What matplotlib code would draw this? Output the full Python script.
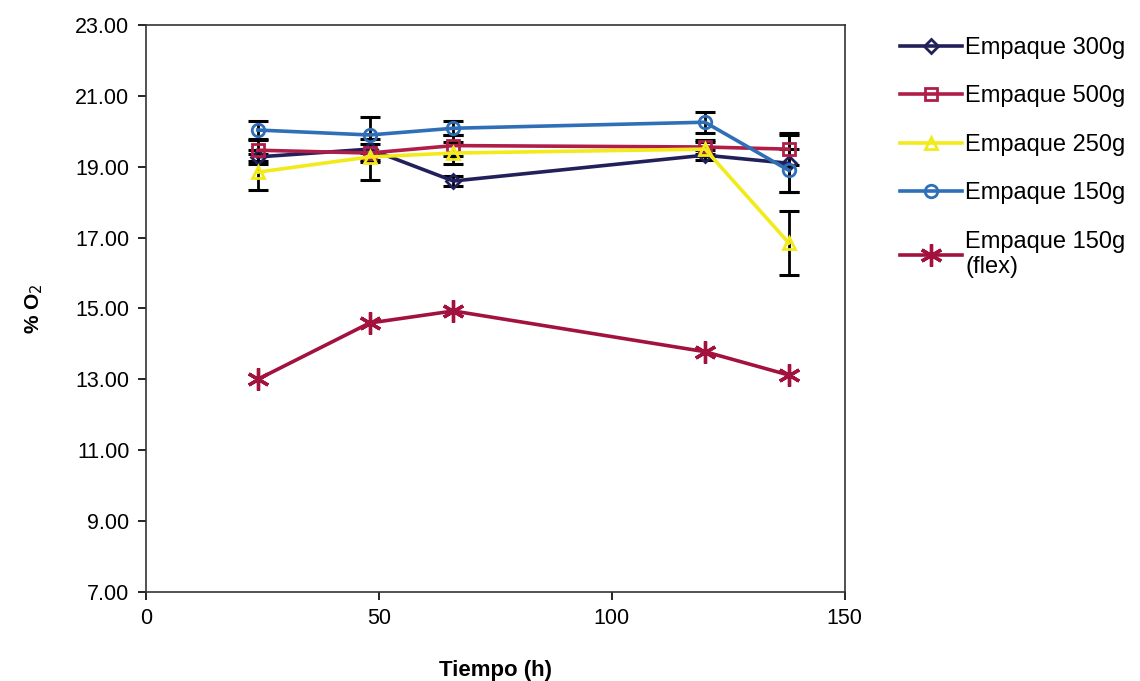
import numpy as np
import matplotlib
matplotlib.use('Agg')
import matplotlib.pyplot as plt

plt.rcParams.update({
    'font.family': ['Liberation Sans', 'DejaVu Sans'],
    'font.size': 12,
})

# tiempo (h)
tiempo = [24, 48, 66, 120, 138]

# % O2 por empaque
o2_300 = [19.28, 19.50, 18.60, 19.33, 19.10]
o2_500 = [19.47, 19.39, 19.60, 19.56, 19.50]
o2_250 = [18.85, 19.28, 19.39, 19.50, 16.85]
o2_150 = [20.04, 19.90, 20.09, 20.26, 18.90]
o2_flex = [13.00, 14.59, 14.93, 13.78, 13.12]

# desviaciones
err_300 = [0.20, 0.30, 0.15, 0.15, 0.80]
err_500 = [0.30, 0.25, 0.30, 0.20, 0.45]
err_250 = [0.50, 0.65, 0.30, 0.20, 0.90]
err_150 = [0.25, 0.50, 0.20, 0.30, 0.60]

labels = ['Empaque 300g', 'Empaque 500g', 'Empaque 250g', 'Empaque 150g',
          'Empaque 150g\n(flex)']

fig = plt.figure(figsize=(11.4, 6.81), dpi=100)
ax = fig.add_axes([0.128, 0.131, 0.613, 0.832])

series = [
    (o2_300, err_300, '#22205a', 'D', 7),
    (o2_500, err_500, '#b01e48', 's', 8),
    (o2_250, err_250, '#f2ea1a', '^', 9),
    (o2_150, err_150, '#2f6fb8', 'o', 9),
]
handles = []
for (vals, errs, col, mk, ms), lab in zip(series, labels[:4]):
    ax.errorbar(tiempo, vals, yerr=errs, fmt='none', ecolor='black',
                elinewidth=2.0, capsize=7, capthick=2.2, zorder=3)
    h, = ax.plot(tiempo, vals, color=col, lw=2.6, marker=mk, ms=ms,
                 mfc='none', mec=col, mew=2.0, label=lab, zorder=4)
    handles.append(h)

h, = ax.plot(tiempo, o2_flex, color='#a3123f', lw=2.6, marker=(6, 2, 0),
             ms=16, mew=2.4, label=labels[4], zorder=4)
handles.append(h)

ax.set_xlim(0, 150)
ax.set_ylim(7, 23)
ax.set_xticks([0, 50, 100, 150])
ax.set_yticks(np.arange(7, 23.1, 2))
ax.set_yticklabels([f'{v:.2f}' for v in np.arange(7, 23.1, 2)])
ax.tick_params(labelsize=15.5, width=1.2, length=6, pad=6)
for s in ax.spines.values():
    s.set_linewidth(1.2)
    s.set_color('#333333')

ax.set_xlabel('Tiempo (h)', fontsize=16, fontweight='bold', labelpad=22)
ax.set_ylabel('% O$_2$', fontsize=15, fontweight='bold', labelpad=22)

fig.legend(handles=handles, loc='upper left', bbox_to_anchor=(0.771, 0.977),
           frameon=False, fontsize=17, handlelength=2.6, handletextpad=0.15,
           labelspacing=1.12)

fig.savefig('out.png', dpi=100)
